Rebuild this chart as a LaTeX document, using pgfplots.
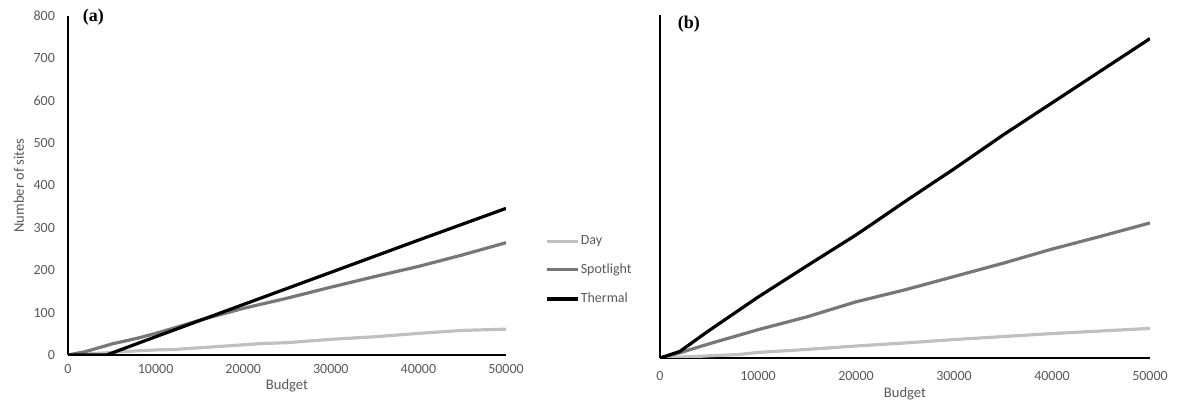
\documentclass[border=0pt]{standalone}
\usepackage{fontspec}
\setmainfont{Carlito}
\newfontfamily\serifbf{Liberation Serif}
\usepackage{pgfplots}
\pgfplotsset{compat=1.18}

\definecolor{txtgray}{HTML}{595959}
\definecolor{daycol}{HTML}{C0C0C0}
\definecolor{spotcol}{HTML}{7A7676}

\pgfplotsset{
  panel/.style={
    scale only axis,
    clip mode=individual,
    axis x line=bottom,
    axis y line=left,
    axis line style={black, line width=0.6pt, -},
    xmin=0, xmax=50000,
    ymin=0, ymax=800,
    xtick={0,10000,20000,30000,40000,50000},
    scaled x ticks=false,
    /pgf/number format/set thousands separator={},
    /pgf/number format/assume math mode=true,
    major tick length=0pt,
    tick label style={font=\fontsize{7}{8}\selectfont, text=txtgray},
    label style={font=\fontsize{7.3}{8}\selectfont, text=txtgray},
    xlabel={Budget},
    every axis plot/.append style={line width=1.6pt, line join=round},
  },
}

\begin{document}
\begin{tikzpicture}
\begin{axis}[panel,
    at={(34pt,28.5pt)}, anchor=origin,
    width=219pt, height=169.5pt,
    ytick={0,100,...,800},
    yticklabel style={xshift=-3pt},
    xticklabel style={yshift=-1pt},
    ylabel={Number of sites},
    ylabel style={yshift=-2pt},
    xlabel style={yshift=4pt},
    legend style={at={(1.089,0.25)}, anchor=west, draw=none, fill=none,
      font=\fontsize{7}{8}\selectfont, text=txtgray, row sep=4.2pt,
      inner sep=0pt},
    legend cell align=left,
    legend image code/.code={\draw[#1] (0pt,0pt) -- (15.5pt,0pt);},
    legend style={nodes={inner xsep=0.6pt}},
]
% Day
\addplot[daycol] coordinates {
 (0,0) (2000,2) (5000,6) (8000,10) (10000,12) (12000,13) (15000,17) (20000,24)
 (22000,27) (25000,29) (30000,37) (35000,43) (40000,51) (45000,58) (50000,61)
};
\addlegendentry{Day}
% Spotlight
\addplot[spotcol] coordinates {
 (0,0) (2000,8) (5000,26) (8000,40) (10000,51) (12000,63) (15000,82) (20000,110)
 (25000,134) (30000,160) (35000,185) (40000,209) (45000,236) (50000,265)
};
\addlegendentry{Spotlight}
% Thermal
\addplot[black] coordinates {
 (0,0) (4400,0) (10000,43) (20000,119) (30000,195) (40000,271) (50000,346)
};
\addlegendentry{Thermal}
\node[anchor=base west, font=\serifbf\bfseries\fontsize{9}{10}\selectfont]
  at (rel axis cs:0.018,0.985) {(a)};
\end{axis}

\begin{axis}[panel,
    at={(330pt,27pt)}, anchor=origin,
    width=245pt, height=171.5pt,
    ytick=\empty,
    xticklabel style={yshift=-3pt},
    xlabel style={yshift=3.5pt},
]
% Day
\addplot[daycol] coordinates {
 (0,0) (2000,2) (5000,5) (8000,8) (10000,13) (15000,20) (20000,28) (25000,35)
 (30000,43) (35000,50) (40000,57) (45000,63) (50000,69)
};
% Spotlight
\addplot[spotcol] coordinates {
 (0,0) (2000,12) (5000,33) (10000,66) (12000,78) (15000,96) (20000,131)
 (25000,159) (30000,190) (35000,221) (40000,254) (45000,284) (50000,315)
};
% Thermal
\addplot[black] coordinates {
 (0,0) (2000,15) (5000,64) (10000,142) (15000,215) (20000,287) (22000,318)
 (25000,365) (30000,441) (35000,520) (40000,595) (43000,640) (45000,670) (50000,745)
};
\node[anchor=base west, font=\serifbf\bfseries\fontsize{9}{10}\selectfont]
  at (rel axis cs:0.022,0.96) {(b)};
\end{axis}
\pgfresetboundingbox
\path (0,0) rectangle (589pt,206pt);
\end{tikzpicture}
\end{document}
